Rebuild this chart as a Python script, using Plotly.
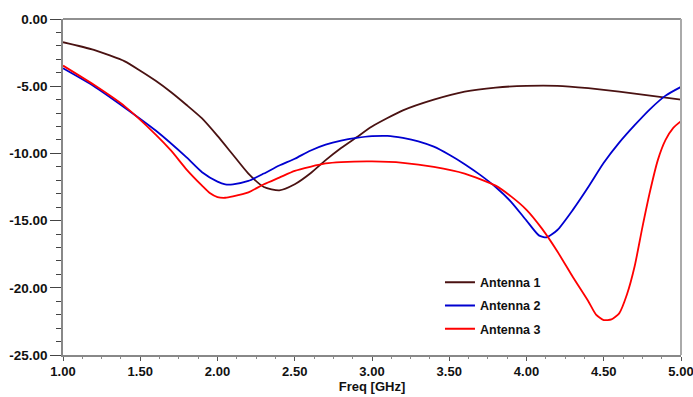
import plotly.graph_objects as go

freq1 = [1.00, 1.20, 1.40, 1.50, 1.60, 1.70, 1.80, 1.90, 2.00, 2.10, 2.20, 2.30, 2.40, 2.50, 2.60, 2.70,
         2.80, 2.90, 3.00, 3.20, 3.40, 3.60, 3.80, 4.00, 4.20, 4.40, 4.60, 4.80, 5.00]
ant1 = [-1.73, -2.3, -3.15, -3.85, -4.6, -5.45, -6.4, -7.4, -8.7, -10.1, -11.5, -12.5, -12.75, -12.3, -11.5, -10.5,
        -9.6, -8.8, -8.0, -6.8, -6.0, -5.4, -5.1, -4.97, -4.97, -5.15, -5.4, -5.7, -6.0]

freq2 = [1.00, 1.20, 1.40, 1.60, 1.80, 1.90, 2.00, 2.05, 2.10, 2.20, 2.30, 2.40, 2.50, 2.60, 2.70, 2.80,
         2.90, 3.00, 3.10, 3.20, 3.30, 3.40, 3.50, 3.60, 3.70, 3.80, 3.90, 4.00, 4.08, 4.13, 4.20, 4.30,
         4.40, 4.50, 4.60, 4.70, 4.80, 4.90, 5.00]
ant2 = [-3.67, -5.0, -6.6, -8.3, -10.3, -11.4, -12.1, -12.3, -12.3, -12.05, -11.5, -10.9, -10.4, -9.8, -9.35, -9.05,
        -8.85, -8.72, -8.7, -8.85, -9.1, -9.5, -10.1, -10.8, -11.6, -12.5, -13.6, -15.0, -16.1, -16.25, -15.7, -14.2,
        -12.5, -10.7, -9.2, -7.9, -6.7, -5.7, -5.05]

freq3 = [1.00, 1.20, 1.40, 1.60, 1.70, 1.80, 1.90, 1.95, 2.00, 2.05, 2.10, 2.20, 2.30, 2.40, 2.50, 2.60,
         2.70, 2.80, 3.00, 3.20, 3.40, 3.60, 3.80, 3.90, 4.00, 4.10, 4.20, 4.30, 4.40, 4.45, 4.50, 4.55,
         4.60, 4.65, 4.70, 4.75, 4.80, 4.85, 4.90, 4.95, 5.00]
ant3 = [-3.47, -4.9, -6.5, -8.6, -9.8, -11.2, -12.4, -12.95, -13.25, -13.3, -13.2, -12.9, -12.3, -11.8, -11.3, -11.0,
        -10.75, -10.65, -10.6, -10.7, -11.0, -11.5, -12.4, -13.2, -14.2, -15.6, -17.3, -19.2, -21.0, -22.0, -22.4, -22.35,
        -21.9, -20.5, -18.4, -15.5, -12.8, -10.5, -9.0, -8.1, -7.6]

xtick_vals = [1.0, 1.5, 2.0, 2.5, 3.0, 3.5, 4.0, 4.5, 5.0]
xtick_text = ["1.00", "1.50", "2.00", "2.50", "3.00", "3.50", "4.00", "4.50", "5.00"]
ytick_vals = [0, -5, -10, -15, -20, -25]
ytick_text = ["0.00", "-5.00", "-10.00", "-15.00", "-20.00", "-25.00"]

series = [
    ("Antenna 1", freq1, ant1, "#4a1212"),
    ("Antenna 2", freq2, ant2, "#0000d0"),
    ("Antenna 3", freq3, ant3, "#ff0000"),
]

fig = go.Figure()
for i, (name, x, y, c) in enumerate(series):
    fig.add_trace(go.Scatter(x=x, y=y, name=name, mode="lines", legendgroup=f"g{i}",
                             line=dict(color=c, width=1.8, shape="spline", smoothing=0.6)))

font_fam = "Liberation Sans, Arial, sans-serif"
fig.update_layout(
    width=693, height=397,
    margin=dict(l=63, r=12, t=19, b=42, autoexpand=False),
    paper_bgcolor="white", plot_bgcolor="white",
    font=dict(family=font_fam, size=13, color="#111"),
    showlegend=True,
    legend=dict(x=0.61, y=0.26, xanchor="left", yanchor="top",
                bgcolor="rgba(0,0,0,0)", font=dict(size=12.5, family=font_fam, weight="bold"),
                itemwidth=30, tracegroupgap=4),
    xaxis=dict(range=[1, 5], tickvals=xtick_vals, ticktext=xtick_text, automargin=False,
               ticklabeloverflow="allow",
               showgrid=False, zeroline=False, showline=True, linecolor="#888", linewidth=1.5,
               ticks="outside", ticklen=4, tickcolor="#555",
               minor=dict(dtick=0.125, ticks="outside", ticklen=2, tickcolor="#888"),
               tickfont=dict(size=13, family=font_fam, weight="bold"),
               title=dict(text="<b>Freq [GHz]</b>", standoff=3, font=dict(size=13, family=font_fam))),
    yaxis=dict(range=[-25, 0], tickvals=ytick_vals, ticktext=ytick_text, automargin=False,
               ticklabeloverflow="allow",
               showgrid=False, zeroline=False, showline=True, linecolor="#888", linewidth=1.5,
               ticks="outside", ticklen=11, tickcolor="#444",
               minor=dict(dtick=1, ticks="outside", ticklen=5, tickcolor="#444"),
               tickfont=dict(size=13.5, family=font_fam, weight="bold")),
)
fig.add_shape(type="line", xref="paper", yref="paper", x0=0, x1=1, y0=1, y1=1,
              line=dict(color="#222", width=1.2))
fig.add_shape(type="line", xref="paper", yref="paper", x0=1, x1=1, y0=0, y1=1,
              line=dict(color="#aaa", width=2))

fig.write_html("out.html", config={"displayModeBar": False},
               post_script="document.body.style.margin='0px';document.body.style.overflow='hidden';")
